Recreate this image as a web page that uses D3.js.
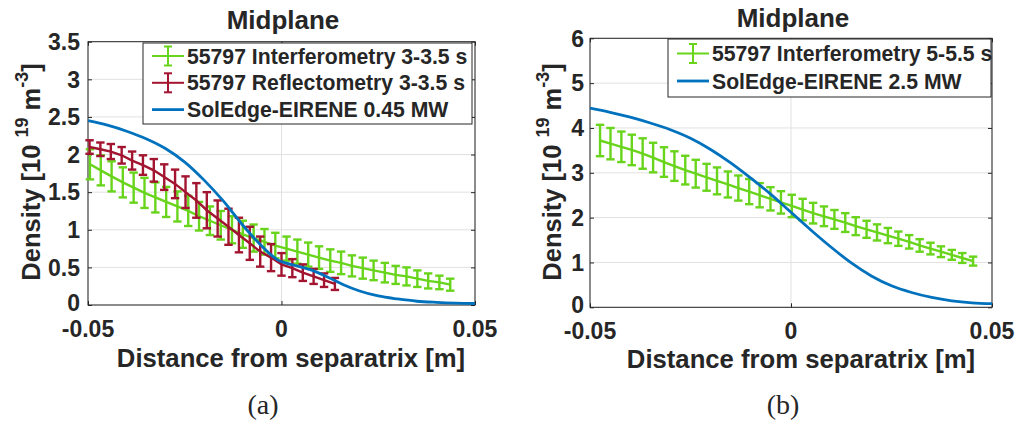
<!DOCTYPE html>
<html><head><meta charset="utf-8">
<script src="https://cdn.jsdelivr.net/npm/d3@7"></script>
<style>
body{margin:0;background:#fff}
svg{display:block}
text{font-family:"Liberation Sans",Arial,Helvetica,sans-serif;font-weight:bold;fill:#262626}
</style>
</head><body>
<svg id="c" width="1020" height="427"></svg>
<script>
// ---------- DATA ----------
const xTicks = [-0.05, 0, 0.05];
const xTickLabels = ["-0.05", "0", "0.05"];
const yTicksA = [0, 0.5, 1, 1.5, 2, 2.5, 3, 3.5];
const yTickLabelsA = ["0", "0.5", "1", "1.5", "2", "2.5", "3", "3.5"];
const yTicksB = [0, 1, 2, 3, 4, 5, 6];
const yTickLabelsB = ["0", "1", "2", "3", "4", "5", "6"];

// (a) Interferometry 3-3.5 s
const interfA_x = [-0.0495,-0.0467,-0.0439,-0.0410,-0.0382,-0.0354,-0.0326,-0.0298,-0.0269,-0.0241,-0.0213,-0.0185,-0.0157,-0.0128,-0.0100,-0.0072,-0.0044,-0.0016,0.0013,0.0041,0.0069,0.0097,0.0126,0.0154,0.0182,0.0210,0.0238,0.0267,0.0295,0.0323,0.0351,0.0379,0.0408,0.0436];
const interfA_y = [1.87,1.79,1.71,1.63,1.56,1.49,1.43,1.37,1.31,1.25,1.18,1.12,1.06,1.00,0.94,0.89,0.84,0.79,0.75,0.71,0.67,0.63,0.59,0.56,0.52,0.49,0.46,0.43,0.40,0.38,0.35,0.32,0.30,0.27];
const interfA_err = [0.20,0.20,0.20,0.20,0.20,0.20,0.20,0.20,0.20,0.20,0.19,0.19,0.19,0.18,0.18,0.18,0.17,0.17,0.16,0.16,0.16,0.15,0.15,0.15,0.14,0.14,0.13,0.13,0.12,0.12,0.11,0.10,0.09,0.08];

// (a) Reflectometry 3-3.5 s
const reflA_x = [-0.0496,-0.0468,-0.0441,-0.0413,-0.0386,-0.0358,-0.0330,-0.0303,-0.0275,-0.0248,-0.0220,-0.0193,-0.0165,-0.0137,-0.0110,-0.0082,-0.0055,-0.0027,0.0000,0.0028,0.0055,0.0083,0.0110,0.0138];
const reflA_y = [2.10,2.07,2.04,1.99,1.92,1.86,1.79,1.70,1.61,1.50,1.39,1.26,1.15,1.04,0.93,0.82,0.71,0.63,0.54,0.49,0.43,0.38,0.33,0.28];
const reflA_err = [0.09,0.09,0.10,0.11,0.12,0.13,0.15,0.17,0.19,0.21,0.23,0.24,0.24,0.24,0.23,0.22,0.20,0.18,0.15,0.12,0.11,0.10,0.09,0.08];

// (a) SolEdge-EIRENE 0.45 MW
const simA_x = [-0.05,-0.045,-0.04,-0.035,-0.03,-0.025,-0.02,-0.015,-0.01,-0.006,-0.003,-0.001,0.001,0.004,0.008,0.012,0.016,0.02,0.025,0.03,0.035,0.04,0.045,0.05];
const simA_y = [2.45,2.39,2.31,2.21,2.08,1.90,1.66,1.38,1.06,0.83,0.68,0.60,0.56,0.52,0.46,0.37,0.27,0.19,0.12,0.08,0.05,0.035,0.025,0.02];

// (b) Interferometry 5-5.5 s
const interfB_x = [-0.0475,-0.0449,-0.0422,-0.0396,-0.0369,-0.0343,-0.0316,-0.0290,-0.0263,-0.0237,-0.0210,-0.0184,-0.0157,-0.0131,-0.0104,-0.0078,-0.0051,-0.0025,0.0002,0.0029,0.0055,0.0082,0.0108,0.0135,0.0161,0.0188,0.0214,0.0241,0.0267,0.0294,0.0320,0.0347,0.0373,0.0400,0.0426,0.0453];
const interfB_y = [3.72,3.65,3.58,3.51,3.43,3.34,3.24,3.15,3.06,2.98,2.90,2.82,2.74,2.66,2.58,2.50,2.42,2.34,2.26,2.18,2.10,2.03,1.96,1.89,1.81,1.74,1.67,1.60,1.53,1.46,1.38,1.31,1.24,1.17,1.10,1.03];
const interfB_err = [0.35,0.35,0.34,0.34,0.34,0.33,0.33,0.33,0.32,0.31,0.30,0.30,0.29,0.28,0.28,0.27,0.26,0.25,0.25,0.24,0.23,0.22,0.21,0.21,0.20,0.19,0.18,0.17,0.16,0.15,0.14,0.13,0.12,0.11,0.11,0.10];

// (b) SolEdge-EIRENE 2.5 MW
const simB_x = [-0.05,-0.045,-0.04,-0.035,-0.03,-0.025,-0.02,-0.015,-0.01,-0.005,0,0.005,0.01,0.015,0.02,0.025,0.03,0.035,0.04,0.045,0.05];
const simB_y = [4.44,4.35,4.24,4.11,3.96,3.77,3.52,3.22,2.88,2.52,2.12,1.72,1.34,0.99,0.70,0.48,0.33,0.22,0.145,0.10,0.08];

const legendA = ["55797 Interferometry 3-3.5 s", "55797 Reflectometry 3-3.5 s", "SolEdge-EIRENE 0.45 MW"];
const legendB = ["55797 Interferometry 5-5.5 s", "SolEdge-EIRENE 2.5 MW"];
const titles = ["Midplane", "Midplane"];
const xLabel = "Distance from separatrix [m]";
const captions = ["(a)", "(b)"];

// ---------- STYLE ----------
const GREEN = "#68d41c", RED = "#a2142f", BLUE = "#0072bd", AX = "#262626", GRID = "#e1e1e1";

const svg = d3.select("#c");

function panel(cfg) {
  const g = svg.append("g");
  const x = d3.scaleLinear().domain([-0.05, 0.05]).range([cfg.left, cfg.right]);
  const y = d3.scaleLinear().domain([0, cfg.ymax]).range([cfg.bottom, cfg.top]);

  // grid
  g.append("g").selectAll("line").data(cfg.yTicks).join("line")
    .attr("x1", cfg.left).attr("x2", cfg.right).attr("y1", d => y(d)).attr("y2", d => y(d))
    .attr("stroke", GRID).attr("stroke-width", 1);
  g.append("g").selectAll("line").data(xTicks).join("line")
    .attr("y1", cfg.top).attr("y2", cfg.bottom).attr("x1", d => x(d)).attr("x2", d => x(d))
    .attr("stroke", GRID).attr("stroke-width", 1);

  // axes with inward ticks on all sides
  const tl = 4;
  const ax = (gen) => gen.tickSizeInner(-tl).tickSizeOuter(0).tickPadding(0);
  const bottomAx = g.append("g").attr("transform", `translate(0,${cfg.bottom})`)
    .call(ax(d3.axisBottom(x).tickValues(xTicks).tickFormat(() => "")));
  const topAx = g.append("g").attr("transform", `translate(0,${cfg.top})`)
    .call(ax(d3.axisTop(x).tickValues(xTicks).tickFormat(() => "")));
  const leftAx = g.append("g").attr("transform", `translate(${cfg.left},0)`)
    .call(ax(d3.axisLeft(y).tickValues(cfg.yTicks).tickFormat(() => "")));
  const rightAx = g.append("g").attr("transform", `translate(${cfg.right},0)`)
    .call(ax(d3.axisRight(y).tickValues(cfg.yTicks).tickFormat(() => "")));
  [bottomAx, topAx, leftAx, rightAx].forEach(a => {
    a.select(".domain").remove();
    a.selectAll("line").attr("stroke", AX);
  });
  g.append("rect").attr("x", cfg.left).attr("y", cfg.top)
    .attr("width", cfg.right - cfg.left).attr("height", cfg.bottom - cfg.top)
    .attr("fill", "none").attr("stroke", AX).attr("stroke-width", 1);

  // tick labels
  g.append("g").selectAll("text").data(xTicks).join("text")
    .attr("x", d => x(d)).attr("y", cfg.bottom + 31.5).attr("text-anchor", "middle")
    .attr("font-size", 23).text((d, i) => xTickLabels[i]);
  g.append("g").selectAll("text").data(cfg.yTicks).join("text")
    .attr("x", cfg.left - cfg.ylabPad).attr("y", d => y(d)).attr("dy", d => d === 0 ? "0.25em" : "0.36em")
    .attr("text-anchor", "end")
    .attr("font-size", 23).text((d, i) => cfg.yTickLabels[i]);

  // title
  g.append("text").attr("x", cfg.titleX).attr("y", cfg.titleY).attr("text-anchor", "middle")
    .attr("font-size", 26).text(cfg.title);

  // x label
  g.append("text").attr("x", cfg.xlabX).attr("y", cfg.xlabY).attr("text-anchor", "middle")
    .attr("font-size", 25.7).text(xLabel);

  // y label
  const yl = g.append("text").attr("text-anchor", "middle").attr("font-size", 25.5)
    .attr("transform", `translate(${cfg.ylabX},${cfg.ylabY}) rotate(-90)`);
  yl.append("tspan").text("Density [10 ");
  yl.append("tspan").attr("font-size", 18).attr("dy", -12).text("19");
  yl.append("tspan").attr("dy", 12).text(" m");
  yl.append("tspan").attr("font-size", 18).attr("dy", -12).text("-3");
  yl.append("tspan").attr("dy", 12).text("]");

  // caption
  g.append("text").attr("x", cfg.capX).attr("y", 414).attr("text-anchor", "middle")
    .style("font-family", "'Liberation Serif','Times New Roman',serif").style("font-weight", "normal")
    .attr("font-size", 28).attr("fill", "#111").text(cfg.caption);

  const plot = g.append("g");
  // error-bar series
  cfg.errSeries.forEach(s => {
    const pts = s.x.map((xv, i) => ({ x: xv, y: s.y[i], e: s.e[i] }));
    plot.append("path").datum(pts)
      .attr("d", d3.line().x(d => x(d.x)).y(d => y(d.y)))
      .attr("fill", "none").attr("stroke", s.color).attr("stroke-width", 2.4);
    const eb = plot.append("g").attr("stroke", s.color).attr("stroke-width", 2.4);
    eb.selectAll(".v").data(pts).join("line").attr("class", "v")
      .attr("x1", d => x(d.x)).attr("x2", d => x(d.x))
      .attr("y1", d => y(d.y - d.e)).attr("y2", d => y(d.y + d.e));
    eb.selectAll(".t").data(pts).join("line").attr("class", "t")
      .attr("x1", d => x(d.x) - 4.2).attr("x2", d => x(d.x) + 4.2)
      .attr("y1", d => y(d.y + d.e)).attr("y2", d => y(d.y + d.e));
    eb.selectAll(".b").data(pts).join("line").attr("class", "b")
      .attr("x1", d => x(d.x) - 4.2).attr("x2", d => x(d.x) + 4.2)
      .attr("y1", d => y(d.y - d.e)).attr("y2", d => y(d.y - d.e));
  });
  // simulation line
  const simPts = cfg.sim.x.map((xv, i) => ({ x: xv, y: cfg.sim.y[i] }));
  plot.append("path").datum(simPts)
    .attr("d", d3.line().curve(d3.curveMonotoneX).x(d => x(d.x)).y(d => y(d.y)))
    .attr("fill", "none").attr("stroke", BLUE).attr("stroke-width", 2.8);

  // legend
  const L = cfg.legend;
  const lg = g.append("g");
  lg.append("rect").attr("x", L.x).attr("y", L.y).attr("width", L.w).attr("height", L.h)
    .attr("fill", "#fff").attr("stroke", AX).attr("stroke-width", 1);
  L.items.forEach((it, i) => {
    const cy = L.y + L.first + i * L.step;
    const sx0 = L.x + 9, sx1 = L.x + 41, sc = (sx0 + sx1) / 2;
    lg.append("line").attr("x1", sx0).attr("x2", sx1).attr("y1", cy).attr("y2", cy)
      .attr("stroke", it.color).attr("stroke-width", it.err ? 2 : 2.8);
    if (it.err) {
      lg.append("line").attr("x1", sc).attr("x2", sc).attr("y1", cy - 9.5).attr("y2", cy + 9.5)
        .attr("stroke", it.color).attr("stroke-width", 2);
      [-9.5, 9.5].forEach(o => lg.append("line").attr("x1", sc - 4).attr("x2", sc + 4)
        .attr("y1", cy + o).attr("y2", cy + o).attr("stroke", it.color).attr("stroke-width", 2));
    }
    lg.append("text").attr("x", L.x + 44).attr("y", cy).attr("dy", "0.36em")
      .attr("font-size", 21.2).attr("fill", "#000").text(it.label);
  });
}

panel({
  left: 88, right: 475, top: 41.7, bottom: 305, ymax: 3.5,
  yTicks: yTicksA, yTickLabels: yTickLabelsA, ylabPad: 8,
  title: titles[0], titleX: 283, titleY: 29,
  xlabX: 291, xlabY: 367, ylabX: 40, ylabY: 172,
  caption: captions[0], capX: 263,
  errSeries: [
    { x: interfA_x, y: interfA_y, e: interfA_err, color: GREEN },
    { x: reflA_x, y: reflA_y, e: reflA_err, color: RED }
  ],
  sim: { x: simA_x, y: simA_y },
  legend: { x: 143, y: 43, w: 329, h: 81, first: 13, step: 26.8,
    items: [
      { label: legendA[0], color: GREEN, err: true },
      { label: legendA[1], color: RED, err: true },
      { label: legendA[2], color: BLUE, err: false }
    ] }
});

panel({
  left: 590, right: 992, top: 38.3, bottom: 307.3, ymax: 6,
  yTicks: yTicksB, yTickLabels: yTickLabelsB, ylabPad: 6,
  title: titles[1], titleX: 793, titleY: 27,
  xlabX: 801, xlabY: 368, ylabX: 561, ylabY: 172,
  caption: captions[1], capX: 783,
  errSeries: [
    { x: interfB_x, y: interfB_y, e: interfB_err, color: GREEN }
  ],
  sim: { x: simB_x, y: simB_y },
  legend: { x: 668, y: 39, w: 323, h: 58, first: 14.5, step: 27.5,
    items: [
      { label: legendB[0], color: GREEN, err: true },
      { label: legendB[1], color: BLUE, err: false }
    ] }
});
</script>
</body></html>
